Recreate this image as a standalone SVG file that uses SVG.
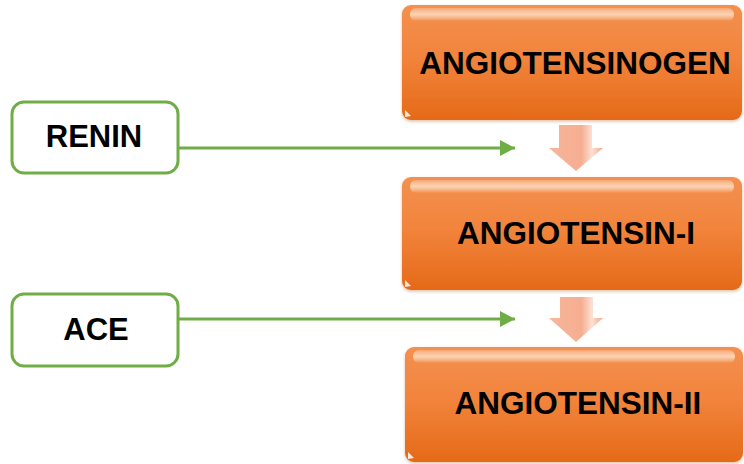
<svg xmlns="http://www.w3.org/2000/svg" width="744" height="464" viewBox="0 0 744 464">
  <defs>
    <linearGradient id="orangeFill" x1="0" y1="0" x2="0" y2="1">
      <stop offset="0" stop-color="#F39050"/>
      <stop offset="0.45" stop-color="#F2843C"/>
      <stop offset="1" stop-color="#E56A18"/>
    </linearGradient>
    <linearGradient id="gloss" x1="0" y1="0" x2="0" y2="1">
      <stop offset="0" stop-color="#FFFFFF" stop-opacity="0.2"/>
      <stop offset="0.5" stop-color="#FFE3C8" stop-opacity="0.8"/>
      <stop offset="1" stop-color="#FFFFFF" stop-opacity="0"/>
    </linearGradient>
    <linearGradient id="pinkFill" x1="0" y1="0" x2="1" y2="0">
      <stop offset="0" stop-color="#F7B59A"/>
      <stop offset="0.6" stop-color="#F6AE92"/>
      <stop offset="0.8" stop-color="#FCE0D4"/>
      <stop offset="1" stop-color="#F4A587"/>
    </linearGradient>
    <marker id="greenHead" markerWidth="16" markerHeight="16" refX="15" refY="8" orient="auto" markerUnits="userSpaceOnUse">
      <path d="M0,0 L15,8 L0,16 Z" fill="#70AD47"/>
    </marker>
    <filter id="softShadow" x="-5%" y="-10%" width="110%" height="125%">
      <feDropShadow dx="0" dy="1.5" stdDeviation="1.5" flood-color="#A04010" flood-opacity="0.35"/>
    </filter>
  </defs>
  <style>
    .step { fill: url(#orangeFill); filter: url(#softShadow); }
    .shine { fill: url(#gloss); }
    .corner { fill: #FFFFFF; opacity: 0.85; }
    .enzyme { fill: #FFFFFF; stroke: #70AD47; stroke-width: 3; }
    .label { font-family: "Liberation Sans", Arial, sans-serif; font-weight: bold; fill: #000000; text-anchor: middle; }
    .big { font-size: 31.5px; }
    .small { font-size: 31px; }
    .link { stroke: #70AD47; stroke-width: 3; fill: none; marker-end: url(#greenHead); }
    .down { fill: url(#pinkFill); }
  </style>

  <!-- substrate chain -->
  <g id="angiotensinogen">
    <rect class="step" x="402" y="5" width="340" height="115" rx="9"/>
    <rect class="shine" x="410" y="8" width="324" height="13" rx="6"/>
    <path class="corner" d="M405,117 L405,110 L411,116 Z"/>
    <text class="label big" x="575" y="74">ANGIOTENSINOGEN</text>
  </g>

  <g id="angiotensin-i">
    <rect class="step" x="402" y="177" width="340" height="113" rx="9"/>
    <rect class="shine" x="410" y="180" width="324" height="13" rx="6"/>
    <path class="corner" d="M405,287 L405,280 L411,286 Z"/>
    <text class="label big" x="576" y="244">ANGIOTENSIN-I</text>
  </g>

  <g id="angiotensin-ii">
    <rect class="step" x="405" y="347" width="338" height="115" rx="9"/>
    <rect class="shine" x="413" y="350" width="322" height="13" rx="6"/>
    <path class="corner" d="M408,459 L408,452 L414,458 Z"/>
    <text class="label big" x="578" y="414">ANGIOTENSIN-II</text>
  </g>

  <!-- enzymes -->
  <g id="renin">
    <rect class="enzyme" x="12" y="102" width="166" height="71" rx="12"/>
    <text class="label small" x="94" y="147">RENIN</text>
  </g>

  <g id="ace">
    <rect class="enzyme" x="12" y="294" width="166" height="72" rx="12"/>
    <text class="label small" x="96" y="340">ACE</text>
  </g>

  <!-- connectors -->
  <g id="connectors">
    <line class="link" x1="178" y1="148" x2="515" y2="148"/>
    <line class="link" x1="178" y1="319" x2="515" y2="319"/>
    <path class="down" d="M559,125 L592,125 L592,148 L603,148 L576,171 L549,148 L559,148 Z"/>
    <path class="down" d="M560,297 L593,297 L593,318 L603,318 L576,342 L549,318 L560,318 Z"/>
  </g>
</svg>
